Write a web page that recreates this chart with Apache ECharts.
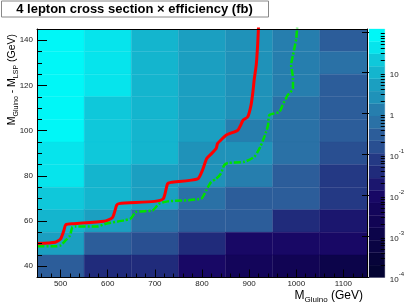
<!DOCTYPE html>
<html><head><meta charset="utf-8">
<script src="https://cdn.jsdelivr.net/npm/echarts@6/dist/echarts.min.js"></script>
<style>html,body{margin:0;padding:0;background:#fff}#c{width:407px;height:304px}</style>
</head><body><div id="c"></div>
<script>
// ---- data ----
const xCenters = [500, 600, 700, 800, 900, 1000, 1100];
const yCenters = [140, 130, 120, 110, 100, 90, 80, 70, 60, 50, 40];
// cross section x efficiency (fb); rows follow yCenters, columns follow xCenters
const xsecEff = [
  [115, 45, 10.5, 5.2, 2.6, 1.3, 0.32],
  [98, 42, 10, 5.0, 2.5, 1.2, 0.6],
  [90, 40, 9.6, 4.8, 2.4, 1.2, 0.33],
  [85, 25, 9.2, 4.6, 2.3, 0.65, 0.3],
  [76, 22, 8.8, 4.4, 1.5, 0.6, 0.3],
  [52, 20, 8.2, 3.0, 2.0, 0.55, 0.16],
  [40, 12, 6.0, 2.6, 1.3, 0.32, 0.08],
  [24, 10, 5.0, 0.7, 0.35, 0.28, 0.075],
  [11, 5.0, 0.62, 0.3, 0.25, 0.04, 0.02],
  [5.5, 0.3, 0.16, 0.035, 0.01, 0.009, 0.008],
  [0.3, 0.04, 0.035, 0.009, 0.005, 0.0025, 0.0012]
];
const observedLimit = [[451,50.0],[489,50.6],[500,52.1],[507,55.8],[511,58.4],[528,58.8],[592,59.9],[610,61.5],[619,67.0],[624,67.7],[699,68.7],[718,69.9],[727,76.6],[734,77.1],[791,78.7],[801,82.5],[810,87.7],[819,89.6],[830,92.1],[833,94.3],[840,95.8],[851,98.0],[876,100.2],[882,102.4],[887,104.6],[897,106.1],[904,111.3],[908,117.2],[911,123.1],[915,129.0],[918,137.9],[920,146.6]];
const expectedLimit = [[451,48.8],[489,48.8],[500,49.2],[511,51.5],[520,53.6],[525,57.3],[532,57.6],[578,57.6],[596,58.8],[635,60.3],[649,61.1],[660,64.0],[695,64.7],[709,67.7],[727,68.7],[798,69.9],[809,73.6],[819,77.2],[830,78.7],[840,81.0],[847,84.7],[855,85.7],[890,86.2],[911,88.4],[918,90.6],[924,93.0],[929,95.5],[936,99.5],[940,102.4],[943,106.9],[964,108.3],[971,111.3],[982,115.8],[993,118.7],[993,123.2],[989,129.1],[993,133.5],[1000,140.8],[1002,146.6]];
const xMajorTicks = [500, 600, 700, 800, 900, 1000, 1100];
const xMinorTicks = [460,480,520,540,560,580,620,640,660,680,720,740,760,780,820,840,860,880,920,940,960,980,1020,1040,1060,1080,1120,1140];
const yMajorTicks = [40, 60, 80, 100, 120, 140];
const yMinorTicks = [45,50,55,65,70,75,85,90,95,105,110,115,125,130,135,145];
const zLabelTicks = [1e-4, 1e-3, 1e-2, 1e-1, 1, 10];
const zMajorTicks = [1e-4, 1e-3, 1e-2, 1e-1, 1, 10, 100];
const zMinorTicks = [2e-4,3e-4,4e-4,5e-4,6e-4,7e-4,8e-4,9e-4,2e-3,3e-3,4e-3,5e-3,6e-3,7e-3,8e-3,9e-3,0.02,0.03,0.04,0.05,0.06,0.07,0.08,0.09,0.2,0.3,0.4,0.5,0.6,0.7,0.8,0.9,2,3,4,5,6,7,8,9,20,30,40,50,60,70,80,90];
const zMin = 1e-4, zMax = 117, nContours = 20;
const xBinHalf = 50, yBinHalf = 5;

// ---- palette (ROOT deep sea style) ----
const pStops = [0, 0.34, 0.61, 0.84, 1];
const pR = [0.00, 0.09, 0.18, 0.09, 0.00];
const pG = [0.01, 0.02, 0.39, 0.68, 0.97];
const pB = [0.17, 0.39, 0.62, 0.79, 0.97];
function pal(f) {
  let k = 0;
  while (k < pStops.length - 2 && f > pStops[k + 1]) k++;
  const t = (f - pStops[k]) / (pStops[k + 1] - pStops[k]);
  const c = a => Math.round(255 * (a[k] + (a[k + 1] - a[k]) * t));
  return 'rgb(' + c(pR) + ',' + c(pG) + ',' + c(pB) + ')';
}
const lmin = Math.log10(zMin), lmax = Math.log10(zMax), lstep = (lmax - lmin) / nContours;
function bandColor(i) {
  const j = Math.floor((i + 0.99) * 50 / nContours);
  return pal(j / 49);
}
function bandOf(v) {
  let i = Math.floor((Math.log10(v) - lmin) / lstep);
  return Math.max(0, Math.min(nContours - 1, i));
}

const cellData = [];
yCenters.forEach((y, r) => xCenters.forEach((x, c) => cellData.push([x, y, xsecEff[r][c]])));
const levels = [];
for (let i = 0; i < nContours; i++) levels.push([i]);

const chart = echarts.init(document.getElementById('c'), null, {renderer: 'canvas'});
const font = 'Liberation Sans, Arial, Helvetica, sans-serif';
const lblColor = '#222';

function supFmt(v) {
  const e = Math.round(Math.log10(v));
  if (e === 0) return '{b|1}';
  if (e === 1) return '{b|10}';
  return '{b|10}{s|' + e + '}';
}
function titleRich(size, sub) {
  return {
    m: {fontSize: size, fontFamily: font, fill: '#000', lineHeight: size + 4, verticalAlign: 'middle'},
    sub: {fontSize: sub, fontFamily: font, fill: '#000', lineHeight: sub - 1, verticalAlign: 'bottom'}
  };
}

chart.setOption({
  animation: false,
  backgroundColor: '#fff',
  grid: [
    {left: 37, top: 29, width: 330, height: 248.5},
    {left: 369, top: 29, width: 20, height: 248.5}
  ],
  xAxis: [
    {gridIndex: 0, type: 'value', min: 450, max: 1150, position: 'bottom', z: 10,
     axisLine: {show: true, lineStyle: {color: '#000', width: 1}},
     axisTick: {show: true, inside: true, length: 8, customValues: xMajorTicks, lineStyle: {color: '#000'}},
     axisLabel: {show: true, customValues: xMajorTicks, formatter: v => String(v), fontSize: 8, color: lblColor, fontFamily: font, margin: 2},
     splitLine: {show: false}},
    {gridIndex: 0, type: 'value', min: 450, max: 1150, position: 'bottom', z: 10,
     axisLine: {show: false},
     axisTick: {show: true, inside: true, length: 4, customValues: xMinorTicks, lineStyle: {color: '#000'}},
     axisLabel: {show: false}, splitLine: {show: false}},
    {gridIndex: 0, type: 'value', min: 450, max: 1150, position: 'top', z: 10,
     axisLine: {show: true, onZero: false, lineStyle: {color: '#000', width: 1}},
     axisTick: {show: false}, axisLabel: {show: false}, splitLine: {show: false}},
    {gridIndex: 1, type: 'value', min: 0, max: 1, show: false}
  ],
  yAxis: [
    {gridIndex: 0, type: 'value', min: 35, max: 145, position: 'left', z: 10,
     axisLine: {show: true, onZero: false, lineStyle: {color: '#000', width: 1}},
     axisTick: {show: true, inside: true, length: 10, customValues: yMajorTicks, lineStyle: {color: '#000'}},
     axisLabel: {show: true, customValues: yMajorTicks, formatter: v => String(v), fontSize: 8, color: lblColor, fontFamily: font, margin: 4},
     splitLine: {show: false}},
    {gridIndex: 0, type: 'value', min: 35, max: 145, position: 'left', z: 10,
     axisLine: {show: false},
     axisTick: {show: true, inside: true, length: 5, customValues: yMinorTicks, lineStyle: {color: '#000'}},
     axisLabel: {show: false}, splitLine: {show: false}},
    {gridIndex: 0, type: 'value', min: 35, max: 145, position: 'right', z: 10,
     axisLine: {show: true, onZero: false, lineStyle: {color: '#000', width: 1}},
     axisTick: {show: false}, axisLabel: {show: false}, splitLine: {show: false}},
    {gridIndex: 1, type: 'log', logBase: 10, min: zMin, max: zMax, position: 'right', z: 10,
     axisLine: {show: false},
     axisTick: {show: true, inside: true, length: 7, customValues: zMajorTicks, lineStyle: {color: '#000'}},
     axisLabel: {show: true, customValues: zLabelTicks, formatter: supFmt, margin: 5, color: lblColor,
       rich: {b: {fontSize: 8, fontFamily: font, color: lblColor, lineHeight: 12, verticalAlign: 'bottom'},
              s: {fontSize: 6, fontFamily: font, color: lblColor, lineHeight: 12, verticalAlign: 'top'}}},
     splitLine: {show: false}},
    {gridIndex: 1, type: 'log', logBase: 10, min: zMin, max: zMax, position: 'right', z: 10,
     axisLine: {show: false},
     axisTick: {show: true, inside: true, length: 4, customValues: zMinorTicks, lineStyle: {color: '#000'}},
     axisLabel: {show: false}, splitLine: {show: false}}
  ],
  series: [
    {type: 'custom', xAxisIndex: 0, yAxisIndex: 0, data: cellData, clip: true, z: 2,
     renderItem: function (params, api) {
       const x = api.value(0), y = api.value(1), v = api.value(2);
       const p0 = api.coord([x - xBinHalf, y + yBinHalf]);
       const p1 = api.coord([x + xBinHalf, y - yBinHalf]);
       const cs = params.coordSys;
       const rect = echarts.graphic.clipRectByRect(
         {x: p0[0], y: p0[1], width: p1[0] - p0[0], height: p1[1] - p0[1]},
         {x: cs.x, y: cs.y, width: cs.width, height: cs.height});
       if (!rect) return;
       const col = bandColor(bandOf(v));
       return {type: 'rect', shape: rect, style: {fill: col, stroke: col, lineWidth: 0.3}};
     }},
    {type: 'custom', xAxisIndex: 3, yAxisIndex: 3, data: levels, z: 2,
     renderItem: function (params, api) {
       const i = api.value(0);
       const lo = Math.pow(10, lmin + i * lstep), hi = Math.pow(10, lmin + (i + 1) * lstep);
       const p0 = api.coord([0, hi]), p1 = api.coord([1, lo]);
       const col = bandColor(i);
       return {type: 'rect', shape: {x: p0[0], y: p0[1], width: p1[0] - p0[0], height: p1[1] - p0[1]},
               style: {fill: col, stroke: col, lineWidth: 0.3}};
     }},
    {type: 'line', xAxisIndex: 0, yAxisIndex: 0, data: observedLimit, showSymbol: false, smooth: 0.2, z: 5,
     lineStyle: {color: '#ff0000', width: 3}},
    {type: 'line', xAxisIndex: 0, yAxisIndex: 0, data: expectedLimit, showSymbol: false, smooth: 0.2, z: 5,
     lineStyle: {color: '#00e000', width: 2.5, type: [7, 2, 2, 2]}}
  ],
  graphic: [
    {type: 'rect', left: 1, top: 0.5, shape: {width: 267, height: 16}, z: 20,
     style: {fill: '#fff', stroke: '#888', lineWidth: 1}},
    {type: 'text', x: 134.5, y: 9, z: 21,
     style: {text: '4 lepton cross section × efficiency (fb)', font: 'bold 13px ' + font, fill: '#000',
             align: 'center', verticalAlign: 'middle'}},
    {type: 'text', x: 363, y: 296, z: 21,
     style: {text: '{m|M}{sub|Gluino}{m| (GeV)}', align: 'right', verticalAlign: 'middle', rich: titleRich(12, 8)}},
    {type: 'text', x: 12, y: 34, rotation: Math.PI / 2, z: 21,
     style: {text: '{m|M}{sub|Gluino}{m| - M}{sub|LSP}{m| (GeV)}', align: 'right', verticalAlign: 'middle', rich: titleRich(10.5, 7)}}
  ]
});
</script></body></html>
